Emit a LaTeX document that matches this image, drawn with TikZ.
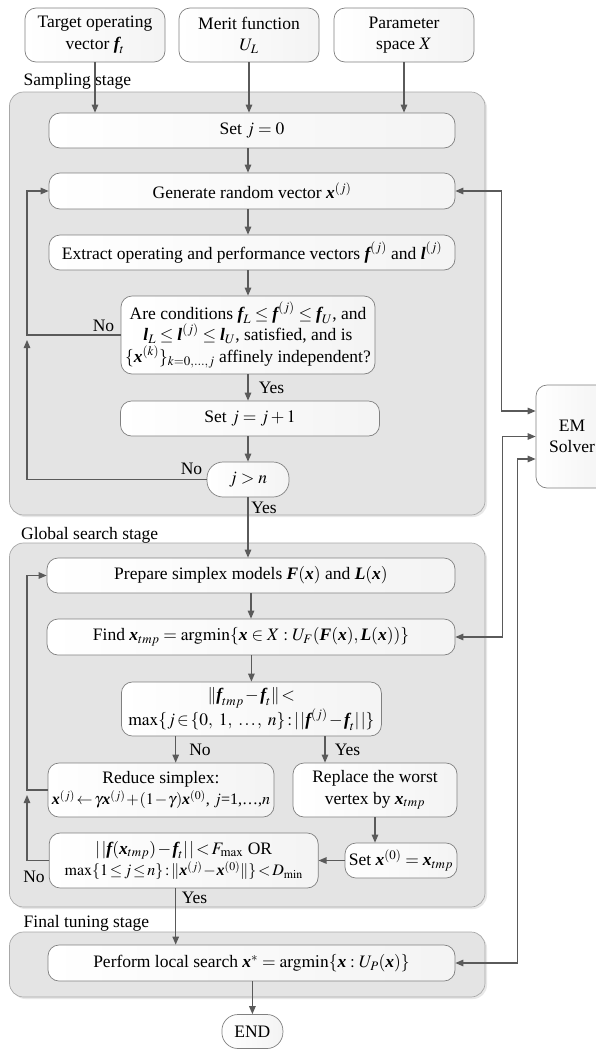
\documentclass[tikz,border=0pt]{standalone}
\usepackage{amsmath}
\usepackage{mathptmx}
\usepackage[no-math]{fontspec}
\setmainfont{Liberation Serif}
\usetikzlibrary{arrows.meta,shadows}
\definecolor{linec}{HTML}{5A5A5A}
\definecolor{boxline}{HTML}{808080}
\definecolor{panelfill}{HTML}{E4E4E4}
\definecolor{panelline}{HTML}{A8A8A8}
\newcommand{\bv}[1]{\text{\bfseries\itshape #1}}
\newcommand{\tightmath}{\thickmuskip=2mu\medmuskip=1.5mu\thinmuskip=1.5mu}
\newcommand{\smallline}{\fontsize{16}{21.5}\selectfont\thickmuskip=2mu\medmuskip=1mu\thinmuskip=1mu}
\begin{document}
\begin{tikzpicture}[x=1pt,y=-1pt,
  every node/.style={font=\fontsize{17.5}{21.5}\selectfont},
  fbox/.style={draw=boxline, line width=0.7pt, rounded corners=11pt, left color=white, right color=gray!9, align=center, inner sep=0pt},
  pill/.style={fbox, rounded corners=16pt},
  panel/.style={draw=panelline, line width=0.7pt, rounded corners=14pt, fill=panelfill, drop shadow={opacity=0.18, shadow xshift=2pt, shadow yshift=-2pt}},
  arrowline/.style={draw=linec, line width=1.2pt, -{Triangle[length=8pt,width=6.5pt]}},
  dualline/.style={draw=linec, line width=1.2pt, {Triangle[length=8pt,width=6.5pt]}-{Triangle[length=8pt,width=6.5pt]}},
  lbl/.style={inner sep=0pt},
  stage/.style={anchor=west, inner sep=0pt}
]
\useasboundingbox (0,0) rectangle (595,1050);

% panels
\path[panel] (9.5,92) rectangle (485,515);
\path[panel] (9.5,543) rectangle (485,907);
\path[panel] (9.5,932) rectangle (485,997);

% stage labels
\node[stage] (lsamp) at (23.5,81) {Sampling stage};
\node[stage] (lglob) at (21,535) {Global search stage};
\node[stage] (lfin) at (23.5,923) {Final tuning stage};

% inputs
\node[fbox, minimum width=140pt, minimum height=54pt] (tgt) at (95,35) {Target operating\\vector $\bv{f}_t$};
\node[fbox, minimum width=140pt, minimum height=54pt] (mer) at (249,35) {Merit function\\$U_L$};
\node[fbox, minimum width=140pt, minimum height=54pt] (par) at (404,35) {Parameter\\space $X$};

% sampling stage
\node[fbox, minimum width=406pt, minimum height=35pt] (setj) at (252,130.5) {Set $j=0$};
\node[fbox, minimum width=406pt, minimum height=36pt] (gen) at (252,191) {Generate random vector $\bv{x}^{(j)}$};
\node[fbox, minimum width=406pt, minimum height=35pt] (ext) at (252,252.5) {Extract operating and performance vectors $\bv{f}^{(j)}$ and $\bv{l}^{(j)}$};
\node[fbox, minimum width=254pt, minimum height=78pt] (cond1) at (248,335) {Are conditions $\bv{f}_L\le \bv{f}^{(j)}\le \bv{f}_U$, and\\$\bv{l}_L\le \bv{l}^{(j)}\le \bv{l}_U$, satisfied, and is\\$\{\bv{x}^{(k)}\}_{k=0,\ldots,j}$ affinely independent?};
\node[fbox, minimum width=259pt, minimum height=35pt] (setjj) at (250,418.5) {Set $j=j+1$};
\node[pill, minimum width=82pt, minimum height=35pt] (jn) at (248,479.5) {$j>n$};

% global search stage
\node[fbox, minimum width=408pt, minimum height=35pt] (prep) at (251,575.5) {Prepare simplex models $\bv{F}(\bv{x})$ and $\bv{L}(\bv{x})$};
\node[fbox, minimum width=408pt, minimum height=36pt] (find) at (251,637) {Find $\bv{x}_{tmp}=\mathrm{argmin}\{\bv{x}\in X: U_F(\bv{F}(\bv{x}),\bv{L}(\bv{x}))\}$};
\node[fbox, minimum width=260pt, minimum height=54pt] (cond2) at (251.4,709) {\tightmath$\|\bv{f}_{tmp}-\bv{f}_t\|<$\\\tightmath$\max\{j\in\{0,\ 1,\ \ldots,\ n\}: |\,|\bv{f}^{(j)}-\bv{f}_t|\,|\}$};
\node[fbox, minimum width=226pt, minimum height=54pt] (red) at (161,790) {Reduce simplex:\\\smallline$\bv{x}^{(j)}\leftarrow \gamma\bv{x}^{(j)}+(1-\gamma)\bv{x}^{(0)}$, $j$=1,\ldots,$n$};
\node[fbox, minimum width=164pt, minimum height=54pt] (rep) at (375,790) {Replace the worst\\vertex by $\bv{x}_{tmp}$};
\node[fbox, minimum width=112pt, minimum height=35pt] (setx) at (401,860.5) {Set $\bv{x}^{(0)}=\bv{x}_{tmp}$};
\node[fbox, minimum width=269pt, minimum height=55pt] (cond3) at (183.7,860.5) {\tightmath$|\,|\bv{f}(\bv{x}_{tmp})-\bv{f}_t|\,|<F_{\max}$ OR\\\smallline$\max\{1\le j\le n\}:\|\bv{x}^{(j)}-\bv{x}^{(0)}\|\}<D_{\min}$};

% final stage
\node[fbox, minimum width=407pt, minimum height=36pt] (perf) at (251.5,963) {Perform local search $\bv{x}^{*}=\mathrm{argmin}\{\bv{x}: U_P(\bv{x})\}$};
\node[pill, minimum width=61pt, minimum height=34pt] (endn) at (252.4,1031.5) {END};

% EM solver
\node[fbox, minimum width=72pt, minimum height=103pt] (em) at (572,436.5) {EM\\Solver};

% helper coordinates
\coordinate (lx) at (27,0);
\coordinate (nx) at (175.7,0);
\coordinate (yx) at (325,0);

% input arrows
\draw[arrowline] (tgt.south) -- (tgt.south |- setj.north);
\draw[arrowline] (mer.south) -- (mer.south |- setj.north);
\draw[arrowline] (par.south) -- (par.south |- setj.north);

% sampling flow
\draw[arrowline] (setj.south -| cond1.north) -- (gen.north -| cond1.north);
\draw[arrowline] (gen.south -| cond1.north) -- (ext.north -| cond1.north);
\draw[arrowline] (ext.south -| cond1.north) -- (cond1.north);
\draw[arrowline] (cond1.south) -- (cond1.south |- setjj.north);
\draw[arrowline] (setjj.south -| jn.north) -- (jn.north);
\draw[arrowline] (cond1.west) -- (cond1.west -| lx) |- (gen.west);
\path (cond1.west -| lx) coordinate (j1);
\draw[arrowline] (jn.west) -- (jn.west -| lx) -- ([yshift=-5pt]j1);
\node[lbl] (no1) at (103.5,326) {No};
\node[lbl] (yes1) at (271.5,388) {Yes};
\node[lbl] (no2) at (191.5,469) {No};

% to global
\draw[arrowline] (jn.south) -- (jn.south |- prep.north);
\node[lbl] (yes2) at (264,508) {Yes};

% global flow
\draw[arrowline] (prep.south) -- (prep.south |- find.north);
\draw[arrowline] (find.south -| cond2.north) -- (cond2.north);
\draw[arrowline] (cond2.south -| nx) -- (red.north -| nx);
\draw[arrowline] (cond2.south -| yx) -- (rep.north -| yx);
\node[lbl] (no3) at (200,750) {No};
\node[lbl] (yes3) at (347.5,750) {Yes};
\draw[arrowline] (rep.south) -- (rep.south |- setx.north);
\draw[arrowline] (setx.west) -- (cond3.east);
\draw[arrowline] (red.west) -- (red.west -| lx) |- (prep.west);
\path (red.west -| lx) coordinate (j2);
\draw[arrowline] (cond3.west) -- (cond3.west -| lx) -- ([yshift=-5pt]j2);
\node[lbl] (no4) at (34,877) {No};

% to final
\draw[arrowline] (cond3.south -| nx) -- (perf.north -| nx);
\node[lbl] (yes4) at (194.5,898) {Yes};
\draw[arrowline] (perf.south -| endn.north) -- (endn.north);

% EM solver links
\draw[dualline] (gen.east) -| ([xshift=-34pt,yshift=25.5pt]em.west) -- ([yshift=25.5pt]em.west);
\draw[dualline] (find.east) -| ([xshift=-33pt]em.west) -- (em.west);
\draw[dualline] (perf.east) -| ([xshift=-18pt,yshift=-22.5pt]em.west) -- ([yshift=-22.5pt]em.west);
\end{tikzpicture}
\end{document}
